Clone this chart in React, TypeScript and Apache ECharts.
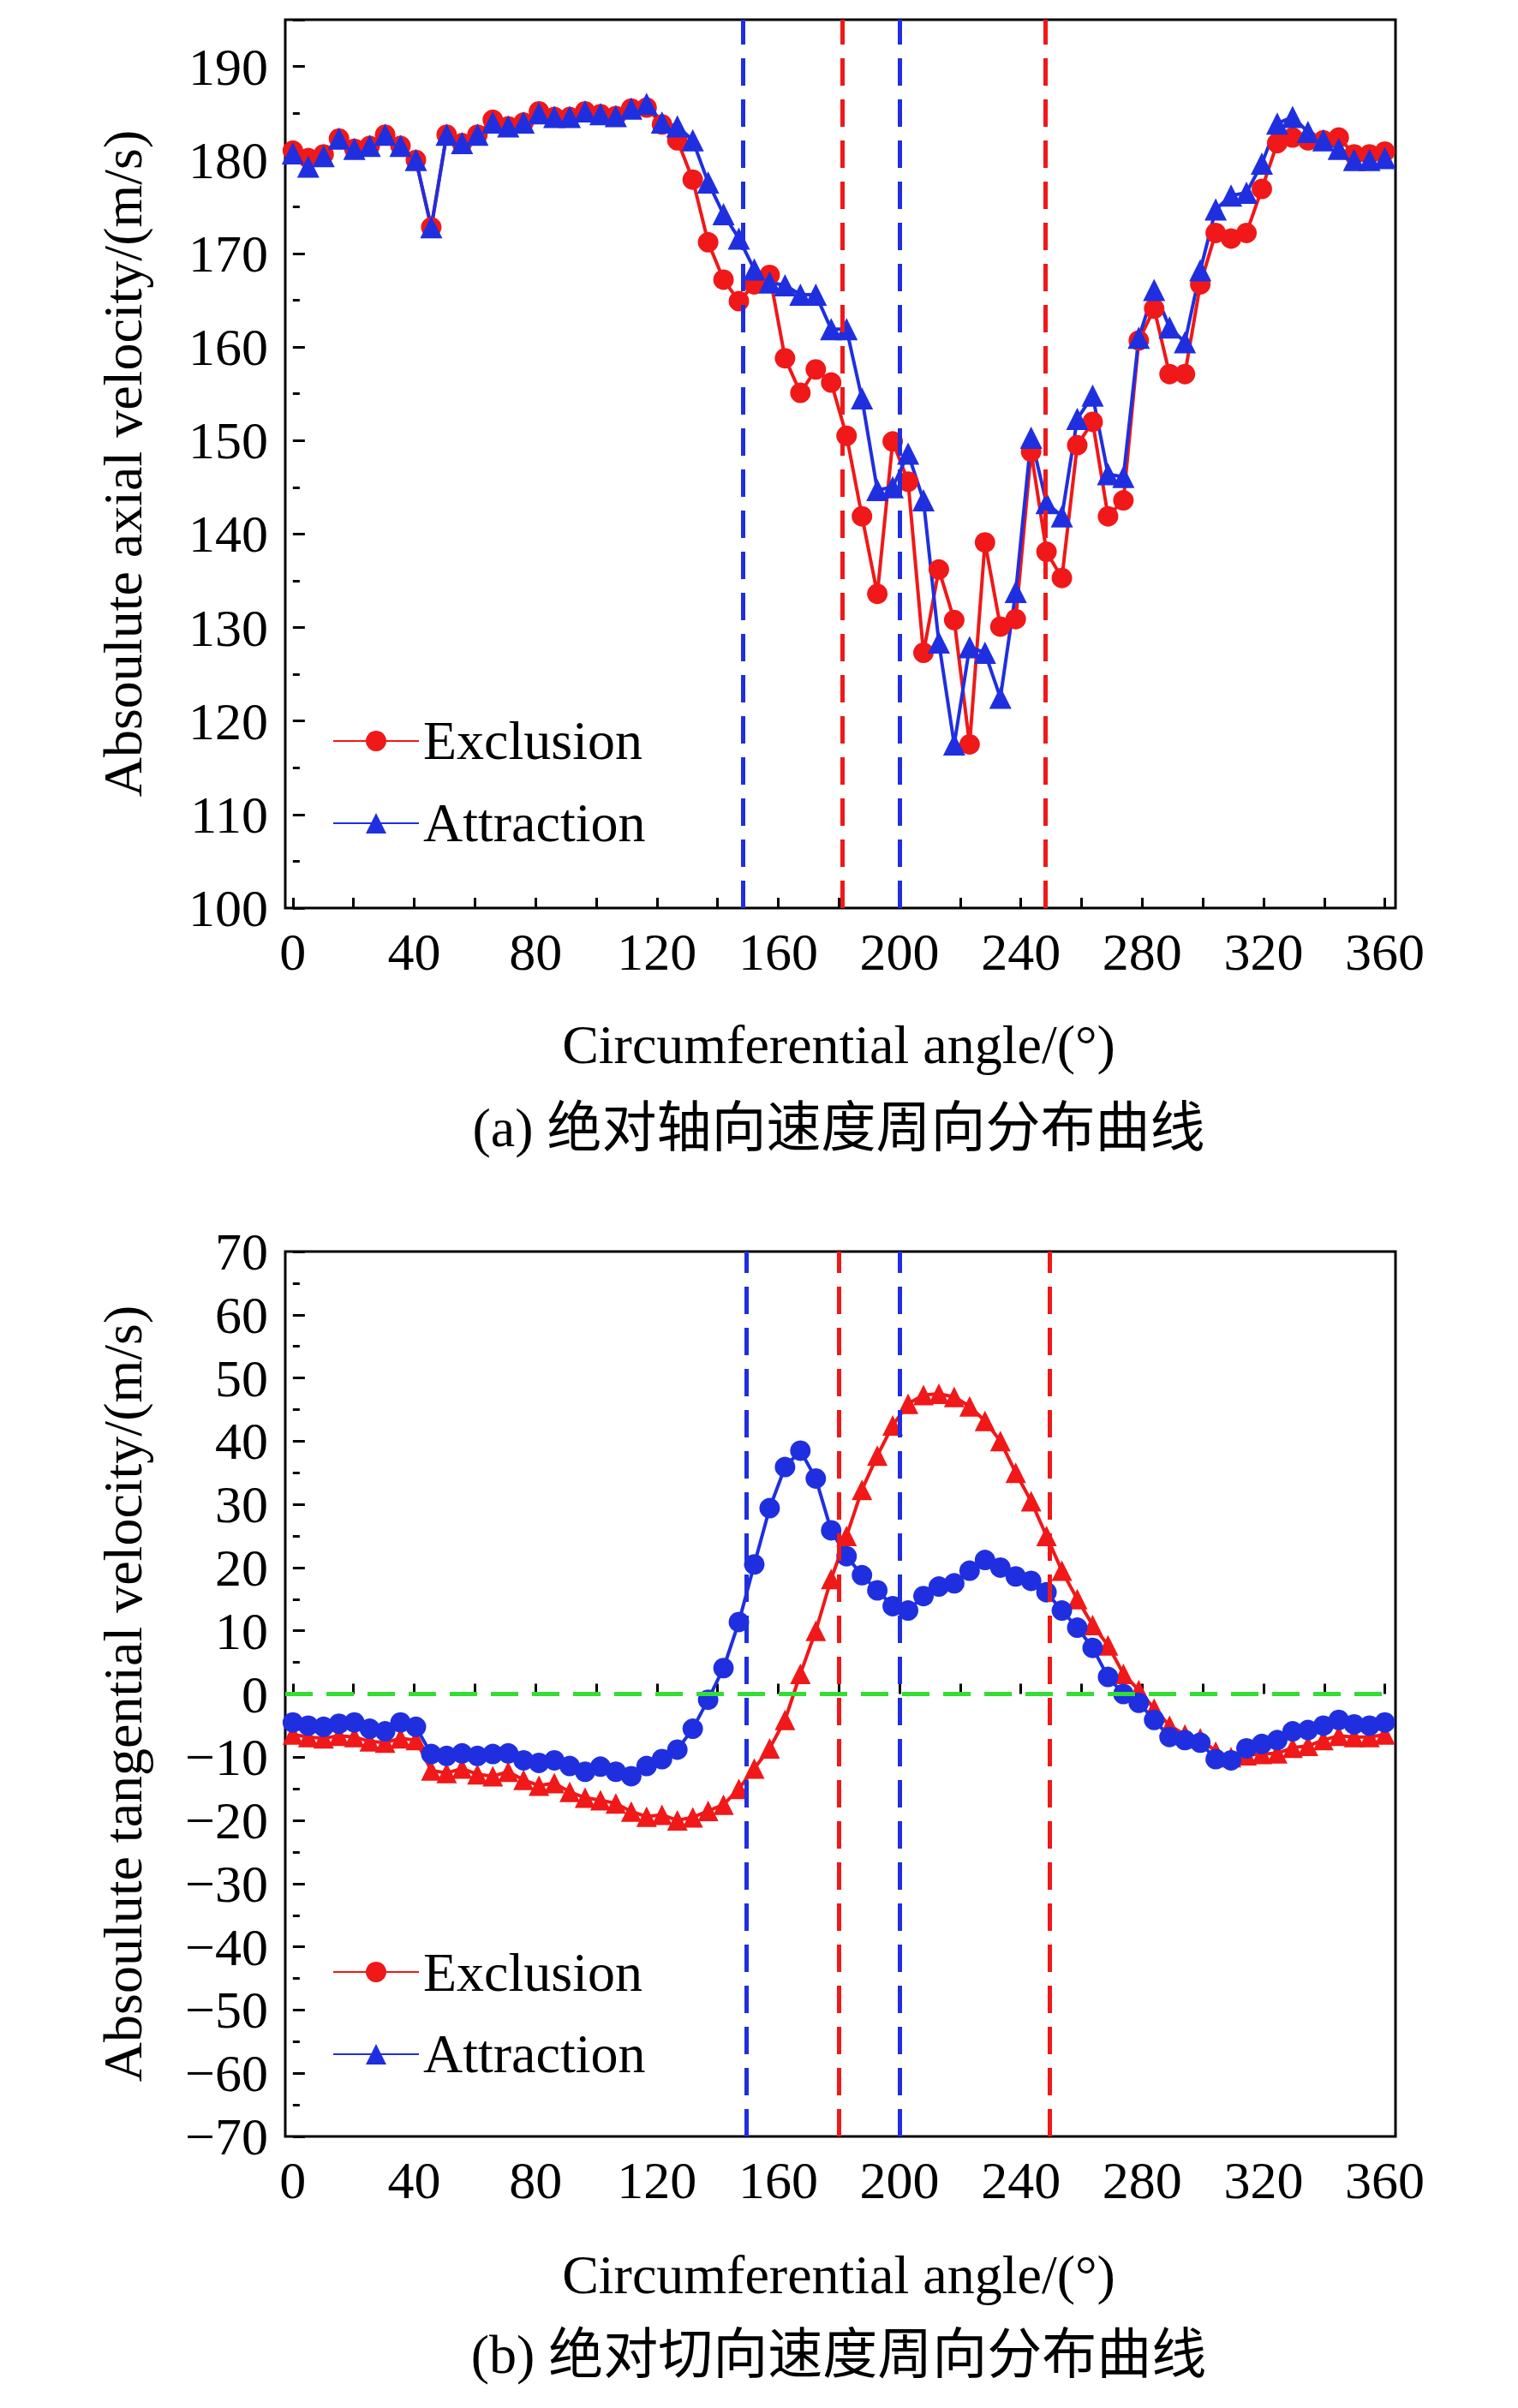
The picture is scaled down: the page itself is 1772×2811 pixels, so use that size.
import React, { useEffect, useRef } from "react";
import * as echarts from "echarts";

// angle of each sample point (72 points across one revolution)
const angles: number[] = Array.from({ length: 72 }, (_, i) => +((i * 360) / 71).toFixed(2));

const axialExclusion = [
  181, 180.2, 180.6, 182.3, 181.2, 181.5, 182.7, 181.5, 180, 172.8, 182.7, 181.8,
  182.7, 184.3, 183.6, 184, 185.2, 184.6, 184.6, 185.2, 184.9, 184.7, 185.5, 185.6,
  183.8, 182.1, 177.9, 171.2, 167.2, 164.9, 166.7, 167.7, 158.8, 155.1, 157.6, 156.2,
  150.5, 141.9, 133.6, 149.9, 145.6, 127.3, 136.2, 130.8, 117.5, 139.1, 130.1, 130.9,
  148.8, 138.1, 135.3, 149.5, 152, 141.9, 143.6, 160.7, 164.1, 157.1, 157.1, 166.7,
  172.2, 171.6, 172.2, 176.9, 181.8, 182.4, 182.1, 182.1, 182.4, 180.6, 180.6, 180.9,
];
const axialAttraction = [
  180.7, 179.3, 180.4, 182.3, 181.2, 181.5, 182.7, 181.5, 180, 172.8, 182.7, 181.8,
  182.7, 184, 183.6, 184, 185, 184.6, 184.6, 185.2, 184.9, 184.7, 185.5, 186,
  184, 183.6, 182.1, 177.6, 174.2, 171.6, 168.3, 166.9, 166.6, 165.6, 165.6, 161.9,
  161.9, 154.5, 144.7, 145, 148.6, 143.6, 128.4, 117.5, 127.9, 127.3, 122.5, 133.8,
  150.3, 143.3, 141.9, 152.3, 154.8, 146.4, 146.1, 161, 166.1, 162.1, 160.5, 168.2,
  174.7, 176.2, 176.5, 179.6, 183.9, 184.6, 183, 182.1, 181.2, 180, 180, 180.2,
];
const tangExclusion = [
  -6.4, -6.8, -7, -6.6, -6.8, -7.5, -7.7, -7, -7.3, -12.1, -12.5, -11.8,
  -12.7, -13, -12.3, -13.6, -14.5, -14.1, -15.5, -16.4, -16.8, -17.3, -18.6, -19.4,
  -19.1, -20, -19.5, -18.5, -17.5, -15, -11.8, -8.6, -4.1, 3.2, 10, 18.2,
  25, 32.3, 37.7, 42.5, 45.9, 47.3, 47.5, 47, 45.5, 43.2, 40, 35,
  30.5, 25, 19.5, 15, 10.9, 7.7, 3.2, 0.6, -2.3, -5, -6.4, -7,
  -9.1, -10, -9.7, -9.5, -9.4, -8.5, -8.2, -7.3, -6.6, -6.8, -6.8, -6.4,
];
const tangAttraction = [
  -4.5, -5, -5.2, -4.7, -4.5, -5.5, -5.9, -4.5, -5.2, -9.5, -9.8, -9.4,
  -9.8, -9.5, -9.4, -10.5, -10.9, -10.5, -11.4, -12.3, -11.5, -12.3, -13, -11.4,
  -10.3, -8.8, -5.5, -0.9, 4.1, 11.4, 20.5, 29.4, 35.9, 38.5, 34.1, 25.9,
  21.8, 18.8, 16.4, 13.9, 13.2, 15.5, 17, 17.5, 19.5, 21.2, 20, 18.6,
  17.9, 16.1, 13.2, 10.5, 7.3, 2.7, 0, -1.4, -4.1, -6.8, -7.3, -7.7,
  -10.3, -10.5, -8.6, -7.9, -7.3, -5.9, -5.7, -5, -4.1, -4.8, -5, -4.5,
];
const regionLinesTop = [
  { x: 148.5, color: "#1f2fe0" },
  { x: 181, color: "#f01818" },
  { x: 200, color: "#1f2fe0" },
  { x: 248, color: "#f01818" },
];
const regionLinesBottom = [
  { x: 149.5, color: "#1f2fe0" },
  { x: 180, color: "#f01818" },
  { x: 200, color: "#1f2fe0" },
  { x: 249.5, color: "#f01818" },
];
const xTickLabels = [0, 40, 80, 120, 160, 200, 240, 280, 320, 360];
const xTicks = [0, 20, 40, 60, 80, 100, 120, 140, 160, 180, 200, 220, 240, 260, 280, 300, 320, 340, 360];

const RED = "#f01818";
const BLUE = "#1f2fe0";
const FONT = "'Liberation Serif', 'Noto Sans CJK SC', serif";

const pair = (ys: number[]) => angles.map((a, i) => [a, ys[i]]);

const App: React.FC = () => {
  const ref = useRef<HTMLDivElement>(null);

  useEffect(() => {
    document.body.style.margin = "0";
    if (!ref.current) return;
    const chart = echarts.init(ref.current, undefined, { renderer: "svg" });

    const L = 333, W = 1296;
    const grids = [
      { left: L, top: 23, width: W, height: 1037 },
      { left: L, top: 1461, width: W, height: 1033 },
    ];

    const xAxis = (gi: number) => ({
      type: "value",
      gridIndex: gi,
      min: -2.5,
      max: 363.5,
      axisLine: { show: false },
      splitLine: { show: false },
      axisTick: { inside: true, length: 12, customValues: xTicks, lineStyle: { color: "#000", width: 3 } },
      axisLabel: {
        customValues: xTickLabels,
        fontFamily: FONT,
        fontSize: 62,
        color: "#000",
        margin: 20,
      },
    });

    const yAxis = (gi: number, min: number, max: number) => ({
      type: "value",
      gridIndex: gi,
      min,
      max,
      interval: 10,
      axisLine: { show: false },
      splitLine: { show: false },
      axisTick: { inside: true, length: 14, lineStyle: { color: "#000", width: 3 } },
      minorTick: { show: true, splitNumber: 2, length: 8, lineStyle: { color: "#000", width: 3 } },
      axisLabel: {
        fontFamily: FONT,
        fontSize: 62,
        color: "#000",
        margin: 20,
        showMaxLabel: max % 10 === 0,
        formatter: (v: number) => String(v).replace("-", "\u2212"),
      },
    });

    const vLines = (lines: { x: number; color: string }[]) => ({
      silent: true,
      symbol: "none",
      label: { show: false },
      data: lines.map((l) => ({
        xAxis: l.x,
        lineStyle: { color: l.color, width: 5, type: [32, 16] },
      })),
    });

    const lineSeries = (
      name: string, data: number[], color: string, symbol: string, gi: number, size: number, extra: any = {}
    ) => ({
      name,
      type: "line",
      xAxisIndex: gi,
      yAxisIndex: gi,
      data: pair(data),
      symbol,
      symbolSize: size,
      lineStyle: { color, width: 4 },
      itemStyle: { color },
      ...extra,
    });

    const legendCommon = {
      orient: "vertical",
      left: 383,
      itemWidth: 100,
      itemHeight: 30,
      itemGap: 32,
      selectedMode: false,
      textStyle: { fontFamily: FONT, fontSize: 64, color: "#000" },
    };

    const text = (x: number, y: number, t: string, rotation = 0) => ({
      type: "text",
      x,
      y,
      rotation,
      style: {
        text: t,
        fontFamily: FONT,
        fontSize: 64,
        fill: "#000",
        textAlign: "center",
        textVerticalAlign: "middle",
      },
    });

    const option: any = {
      animation: false,
      backgroundColor: "#fff",
      grid: grids.map((g) => ({ ...g, show: true, borderColor: "#000", borderWidth: 3, backgroundColor: "transparent" })),
      xAxis: [xAxis(0), xAxis(1)],
      yAxis: [yAxis(0, 100, 195), yAxis(1, -70, 70)],
      legend: [
        { ...legendCommon, top: 828, data: ["Exclusion", "Attraction"] },
        { ...legendCommon, top: 2265, data: ["Exclusion ", "Attraction "] },
      ],
      series: [
        lineSeries("Exclusion", axialExclusion, RED, "circle", 0, 24, { markLine: vLines(regionLinesTop) }),
        lineSeries("Attraction", axialAttraction, BLUE, "triangle", 0, 26),
        // legend-only entries for the lower panel
        lineSeries("Exclusion ", [], RED, "circle", 1, 24),
        lineSeries("Attraction ", [], BLUE, "triangle", 1, 26),
        lineSeries("excl-tangential", tangExclusion, RED, "triangle", 1, 24, {
          markLine: {
            ...vLines(regionLinesBottom),
            data: [
              ...vLines(regionLinesBottom).data,
              { yAxis: 0, lineStyle: { color: "#33dd33", width: 5, type: [32, 16] } },
            ],
          },
        }),
        lineSeries("attr-tangential", tangAttraction, BLUE, "circle", 1, 24),
      ],
      graphic: [
        text(143, 541, "Absoulute axial velocity/(m/s)", -Math.PI / 2),
        text(979, 1219, "Circumferential angle/(°)"),
        text(979, 1316, "(a) 绝对轴向速度周向分布曲线"),
        text(143, 1977, "Absoulute tangential velocity/(m/s)", -Math.PI / 2),
        text(979, 2655, "Circumferential angle/(°)"),
        text(979, 2748, "(b) 绝对切向速度周向分布曲线"),
      ],
    };
    // rotate texts to read bottom-to-top
    option.graphic[0].rotation = Math.PI / 2;
    option.graphic[3].rotation = Math.PI / 2;

    chart.setOption(option);
    return () => chart.dispose();
  }, []);

  return <div ref={ref} style={{ width: 1772, height: 2811 }} />;
};

export default App;
